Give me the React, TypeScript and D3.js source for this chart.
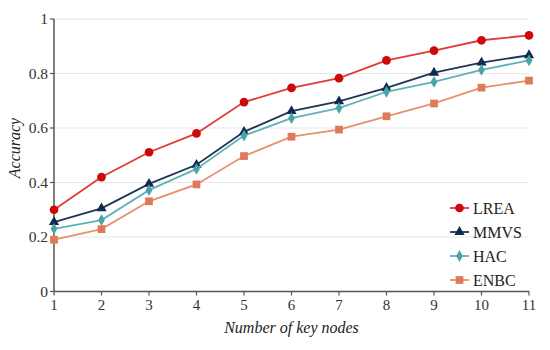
import * as d3 from "d3";

const nodes = [1, 2, 3, 4, 5, 6, 7, 8, 9, 10, 11];
const yTicks = [0, 0.2, 0.4, 0.6, 0.8, 1];

const lrea = [0.3, 0.42, 0.511, 0.58, 0.695, 0.747, 0.783, 0.848, 0.884, 0.922, 0.94];
const mmvs = [0.255, 0.305, 0.395, 0.465, 0.586, 0.662, 0.698, 0.747, 0.803, 0.84, 0.867];
const hac = [0.23, 0.262, 0.372, 0.45, 0.572, 0.636, 0.673, 0.733, 0.769, 0.813, 0.848];
const enbc = [0.19, 0.229, 0.331, 0.393, 0.497, 0.568, 0.594, 0.643, 0.69, 0.748, 0.774];

const series = [
  { name: "LREA", values: lrea, line: "#e03a3a", fill: "#cc0a0a", symbol: d3.symbolCircle, size: 60 },
  { name: "MMVS", values: mmvs, line: "#1d3557", fill: "#0f2a4d", symbol: d3.symbolTriangle, size: 45 },
  { name: "HAC", values: hac, line: "#5fb3b8", fill: "#4aa3aa", symbol: d3.symbolDiamond, size: 40 },
  { name: "ENBC", values: enbc, line: "#e8906e", fill: "#de7a58", symbol: d3.symbolSquare, size: 60 },
];

const FONT = "Liberation Serif";
const AXIS = "#555";

export default function App() {
  const x = d3.scaleLinear().domain([1, 11]).range([54, 529]);
  const y = d3.scaleLinear().domain([0, 1]).range([291.5, 19]);
  const line = d3
    .line<number>()
    .x((_, i) => x(nodes[i]))
    .y((d) => y(d));

  return (
    <svg
      width={550}
      height={350}
      style={{ position: "absolute", left: 0, top: 0, background: "#fff", fontFamily: FONT }}
    >
      {/* gridlines */}
      {yTicks.slice(1).map((t) => (
        <line key={t} x1={x(1)} x2={x(11)} y1={y(t)} y2={y(t)} stroke="#e6e6e6" strokeWidth={1.2} />
      ))}

      {/* x axis */}
      <line x1={x(1)} x2={x(11)} y1={y(0)} y2={y(0)} stroke={AXIS} strokeWidth={1.5} />
      {nodes.map((n) => (
        <g key={n} transform={`translate(${x(n)},${y(0)})`}>
          <line y2={4} stroke={AXIS} strokeWidth={1.2} />
          <text y={18} textAnchor="middle" style={{ fontFamily: FONT, fontSize: 15 }} fill="#333">
            {n}
          </text>
        </g>
      ))}

      {/* y axis */}
      <line x1={x(1)} x2={x(1)} y1={y(0)} y2={y(1)} stroke={AXIS} strokeWidth={1.5} />
      {yTicks.map((t) => (
        <g key={t} transform={`translate(${x(1)},${y(t)})`}>
          <line x2={-4} stroke={AXIS} strokeWidth={1.2} />
          <text x={-6} dy="0.35em" textAnchor="end" style={{ fontFamily: FONT, fontSize: 15.5 }} fill="#333">
            {t}
          </text>
        </g>
      ))}

      {/* series */}
      {series.map((s) => (
        <g key={s.name}>
          <path d={line(s.values)!} fill="none" stroke={s.line} strokeWidth={1.8} />
          {s.values.map((v, i) => (
            <path
              key={i}
              transform={`translate(${x(nodes[i])},${y(v)})`}
              d={d3.symbol().type(s.symbol).size(s.size)()!}
              fill={s.fill}
            />
          ))}
        </g>
      ))}

      {/* legend */}
      <g transform="translate(450,208)">
        {series.map((s, i) => (
          <g key={s.name} transform={`translate(0,${i * 24})`}>
            <line x1={0} x2={19} stroke={s.line} strokeWidth={1.8} />
            <path transform="translate(9.5,0)" d={d3.symbol().type(s.symbol).size(s.size)()!} fill={s.fill} />
            <text x={23} dy="0.35em" style={{ fontFamily: FONT, fontSize: 16 }} fill="#222">
              {s.name}
            </text>
          </g>
        ))}
      </g>

      {/* axis titles */}
      <text
        x={x(6)}
        y={333}
        textAnchor="middle"
        style={{ fontFamily: FONT, fontSize: 16, fontStyle: "italic" }}
        fill="#222"
      >
        Number of key nodes
      </text>
      <text
        transform="translate(20,148) rotate(-90)"
        textAnchor="middle"
        style={{ fontFamily: FONT, fontSize: 16, fontStyle: "italic" }}
        fill="#222"
      >
        Accuracy
      </text>
    </svg>
  );
}
